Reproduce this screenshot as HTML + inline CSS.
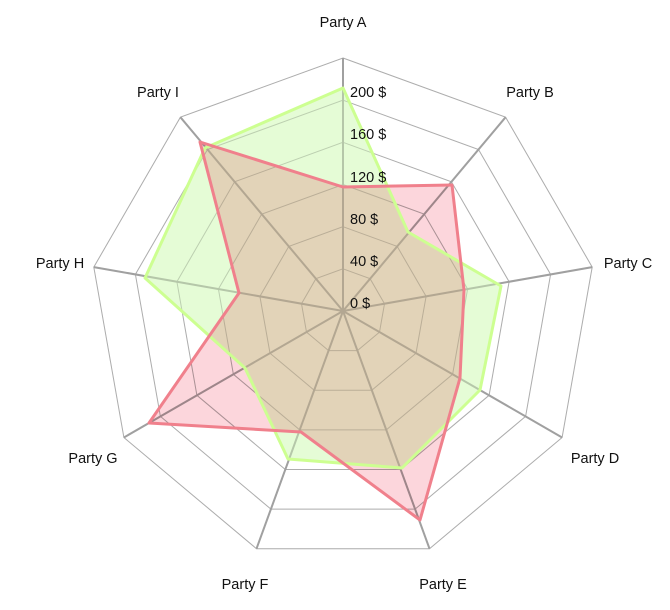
<!DOCTYPE html>
<html><head><meta charset="utf-8"><style>
body{margin:0;background:#fff}
svg{display:block;font-family:"Liberation Sans",sans-serif}
text{font-size:14.5px;fill:#111}
</style></head><body>
<svg id="s" width="670" height="610" viewBox="0 0 670 610">
<g id="grid"></g>
<polygon points="343,88 408,232 501,286 480,390 402,468 288,459 245,368 145,278 205,148" fill="rgb(229,252,214)" stroke="none"/>
<polygon points="343,187 452,185 464,290 460,378 420,520 301,432 149,423 239,293 200,142" fill="rgb(252,214,220)" style="mix-blend-mode:multiply"/>
<g id="grid2" style="mix-blend-mode:multiply"></g>
<polygon points="343,88 408,232 501,286 480,390 402,468 288,459 245,368 145,278 205,148" fill="none" stroke="rgb(205,255,145)" stroke-width="3" stroke-linejoin="round"/>
<polygon points="343,187 452,185 464,290 460,378 420,520 301,432 149,423 239,293 200,142" fill="none" stroke="rgb(240,128,140)" stroke-width="3" stroke-linejoin="round"/>
<text x="350" y="308">0 $</text>
<text x="350" y="266">40 $</text>
<text x="350" y="224">80 $</text>
<text x="350" y="182">120 $</text>
<text x="350" y="139">160 $</text>
<text x="350" y="97">200 $</text>
<text x="343" y="27" text-anchor="middle">Party A</text>
<text x="530" y="97" text-anchor="middle">Party B</text>
<text x="628" y="268" text-anchor="middle">Party C</text>
<text x="595" y="463" text-anchor="middle">Party D</text>
<text x="443" y="589" text-anchor="middle">Party E</text>
<text x="245" y="589" text-anchor="middle">Party F</text>
<text x="93" y="463" text-anchor="middle">Party G</text>
<text x="60" y="268" text-anchor="middle">Party H</text>
<text x="158" y="97" text-anchor="middle">Party I</text>
</svg>
<script>
(function(){
var cx=343,cy=311,R=253,ns="http://www.w3.org/2000/svg";
var g=document.getElementById("grid"),g2=document.getElementById("grid2");
function add(par,tag,attrs){var e=document.createElementNS(ns,tag);for(var k in attrs)e.setAttribute(k,attrs[k]);par.appendChild(e);}
[g,g2].forEach(function(par){
for(var k=1;k<=6;k++){var r=R*k/6,p=[];for(var i=0;i<9;i++){var a=i*40*Math.PI/180;p.push((cx+r*Math.sin(a)).toFixed(1)+","+(cy-r*Math.cos(a)).toFixed(1));}
add(par,"polygon",{points:p.join(" "),fill:"none",stroke:"#d2d2d2","stroke-width":1});}
for(var i=0;i<9;i++){var a=i*40*Math.PI/180;add(par,"line",{x1:cx,y1:cy,x2:(cx+R*Math.sin(a)).toFixed(1),y2:(cy-R*Math.cos(a)).toFixed(1),stroke:"#cacaca","stroke-width":2});}
});
})();
</script>
</body></html>
